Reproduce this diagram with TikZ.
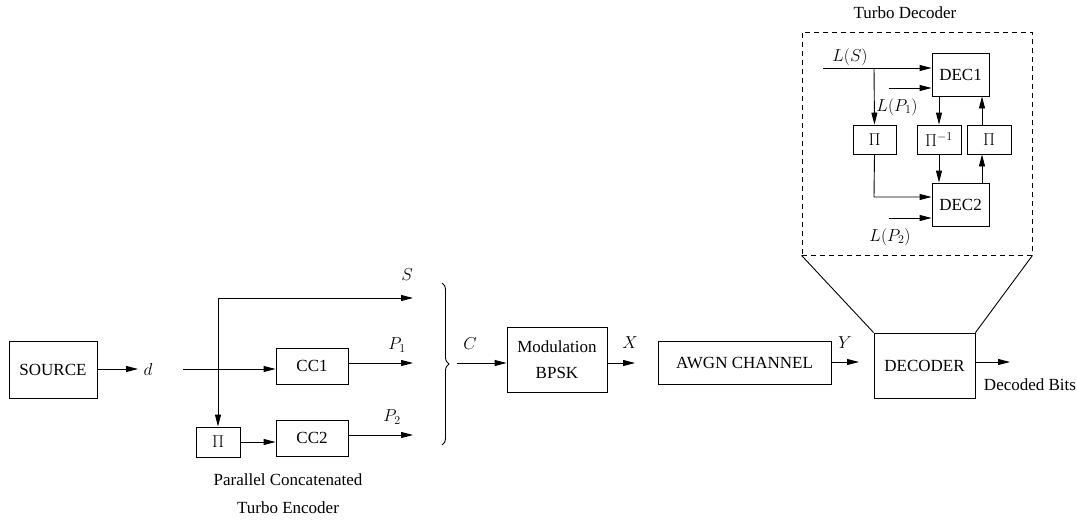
\documentclass[tikz,border=0pt]{standalone}
\usepackage{fontspec}
\setmainfont{Liberation Serif}
\usetikzlibrary{arrows.meta,decorations.pathreplacing}
\begin{document}
\begin{tikzpicture}[x=1pt,y=-1pt,
  every node/.style={font=\fontsize{17}{20}\selectfont},
  box/.style={draw,line width=0.9pt,inner sep=0pt,align=center},
  lbl/.style={inner sep=0pt},
  arr/.style={line width=0.9pt,-{Triangle[length=12pt,width=6pt]}},
  ln/.style={line width=0.9pt},
  dashbox/.style={draw,line width=0.9pt,dash pattern=on 5pt off 4pt}]
\useasboundingbox (0,0) rectangle (1077,522);
% encoder side
\node[box,minimum width=88pt,minimum height=57pt] (src) at (53,369.5) {SOURCE};
\node[box,minimum width=72pt,minimum height=36pt] (cc1) at (312,366) {CC1};
\node[box,minimum width=44pt,minimum height=30pt] (pi1) at (218,442) {$\Pi$};
\node[box,minimum width=72pt,minimum height=36pt] (cc2) at (312,438) {CC2};
\node[box,minimum width=100pt,minimum height=65pt] (mod) at (557,359.5) {Modulation\\[6pt]BPSK};
\node[box,minimum width=173pt,minimum height=43pt] (awgn) at (744.5,362.5) {AWGN CHANNEL};
\node[box,minimum width=101pt,minimum height=65pt] (dec) at (924.5,365.5) {DECODER};
% labels
\node[lbl] (ld) at (148,369) {$d$};
\node[lbl] (lS) at (407,275) {$S$};
\node[lbl] (lP1) at (397,345) {$P_1$};
\node[lbl] (lP2) at (392,417) {$P_2$};
\node[lbl] (lC) at (470,344) {$C$};
\node[lbl] (lX) at (630,343) {$X$};
\node[lbl] (lY) at (845,343) {$Y$};
\node[lbl] (lbits) at (1030,385) {Decoded Bits};
\node[lbl] (lenc1) at (288,480) {Parallel Concatenated};
\node[lbl] (lenc2) at (288,508) {Turbo Encoder};
% coordinates
\coordinate (dEnd) at (138,369);
\coordinate (dStart) at (183,369);
\coordinate (br) at (218,298);
\coordinate (sEnd) at (413,298);
\coordinate (p1End) at (413,363);
\coordinate (p2End) at (413,435);
\coordinate (braceTop) at (442,283);
\coordinate (braceBot) at (442,445);
\coordinate (cStart) at (457,363);
\coordinate (xEnd) at (635,363);
\coordinate (yEnd) at (859,362);
\coordinate (oEnd) at (1010,362);
% connectors
\draw[arr] (src.east |- dEnd) -- (dEnd);
\draw[arr] (dStart) -- (dStart -| cc1.west);
\draw[arr] (br) -- (sEnd);
\draw[arr] (br) -- (pi1.north);
\draw[arr] (cc1.east |- p1End) -- (p1End);
\draw[arr] (cc2.east |- p2End) -- (p2End);
\draw[arr] (pi1.east) -- (pi1.east -| cc2.west);
\draw[ln,decorate,decoration={brace,amplitude=7pt}] (braceTop) -- (braceBot);
\draw[arr] (cStart) -- (cStart -| mod.west);
\draw[arr] (mod.east |- xEnd) -- (xEnd);
\draw[arr] (awgn.east |- yEnd) -- (yEnd);
\draw[arr] (dec.east |- oEnd) -- (oEnd);
% turbo decoder
\node[lbl] (ltd) at (905,13) {Turbo Decoder};
\node[dashbox,minimum width=230pt,minimum height=223pt,inner sep=0pt] (tdbox) at (917,143.5) {};
\draw[ln] (tdbox.south west) -- (dec.north west);
\draw[ln] (tdbox.south east) -- (dec.north east);
\node[box,minimum width=57pt,minimum height=43pt] (dec1) at (960.5,74.5) {DEC1};
\node[box,minimum width=57pt,minimum height=43pt] (dec2) at (960.5,204.5) {DEC2};
\node[box,minimum width=43pt,minimum height=29pt] (piL) at (874.5,139.5) {$\Pi$};
\node[box,minimum width=44pt,minimum height=29pt] (piI) at (939,139.5) {$\Pi^{-1}$};
\node[box,minimum width=44pt,minimum height=29pt] (piR) at (989,139.5) {$\Pi$};
\node[lbl] (lLS) at (850,57) {$L(S)$};
\node[lbl] (lLP1) at (897,107) {$L(P_1)$};
\node[lbl] (lLP2) at (890,237) {$L(P_2)$};
\coordinate (lsStart) at (823,68);
\coordinate (lsBr) at (874,68);
\coordinate (p1Start) at (889,88);
\coordinate (p2Start) at (889,218);
\coordinate (piLdown) at (874,197);
\coordinate (xI) at (939,0);
\coordinate (xR) at (982,0);
\draw[arr] (lsStart) -- (lsStart -| dec1.west);
\draw[arr] (lsBr) -- (piL.north);
\draw[arr] (p1Start) -- (p1Start -| dec1.west);
\draw[arr] (p2Start) -- (p2Start -| dec2.west);
\draw[arr] (piL.south) -- (piLdown) -- (piLdown -| dec2.west);
\draw[arr] (dec1.south -| xI) -- (piI.north);
\draw[arr] (piI.south) -- (dec2.north -| xI);
\draw[arr] (dec2.north -| xR) -- (piR.south -| xR);
\draw[arr] (piR.north -| xR) -- (dec1.south -| xR);
\end{tikzpicture}
\end{document}
